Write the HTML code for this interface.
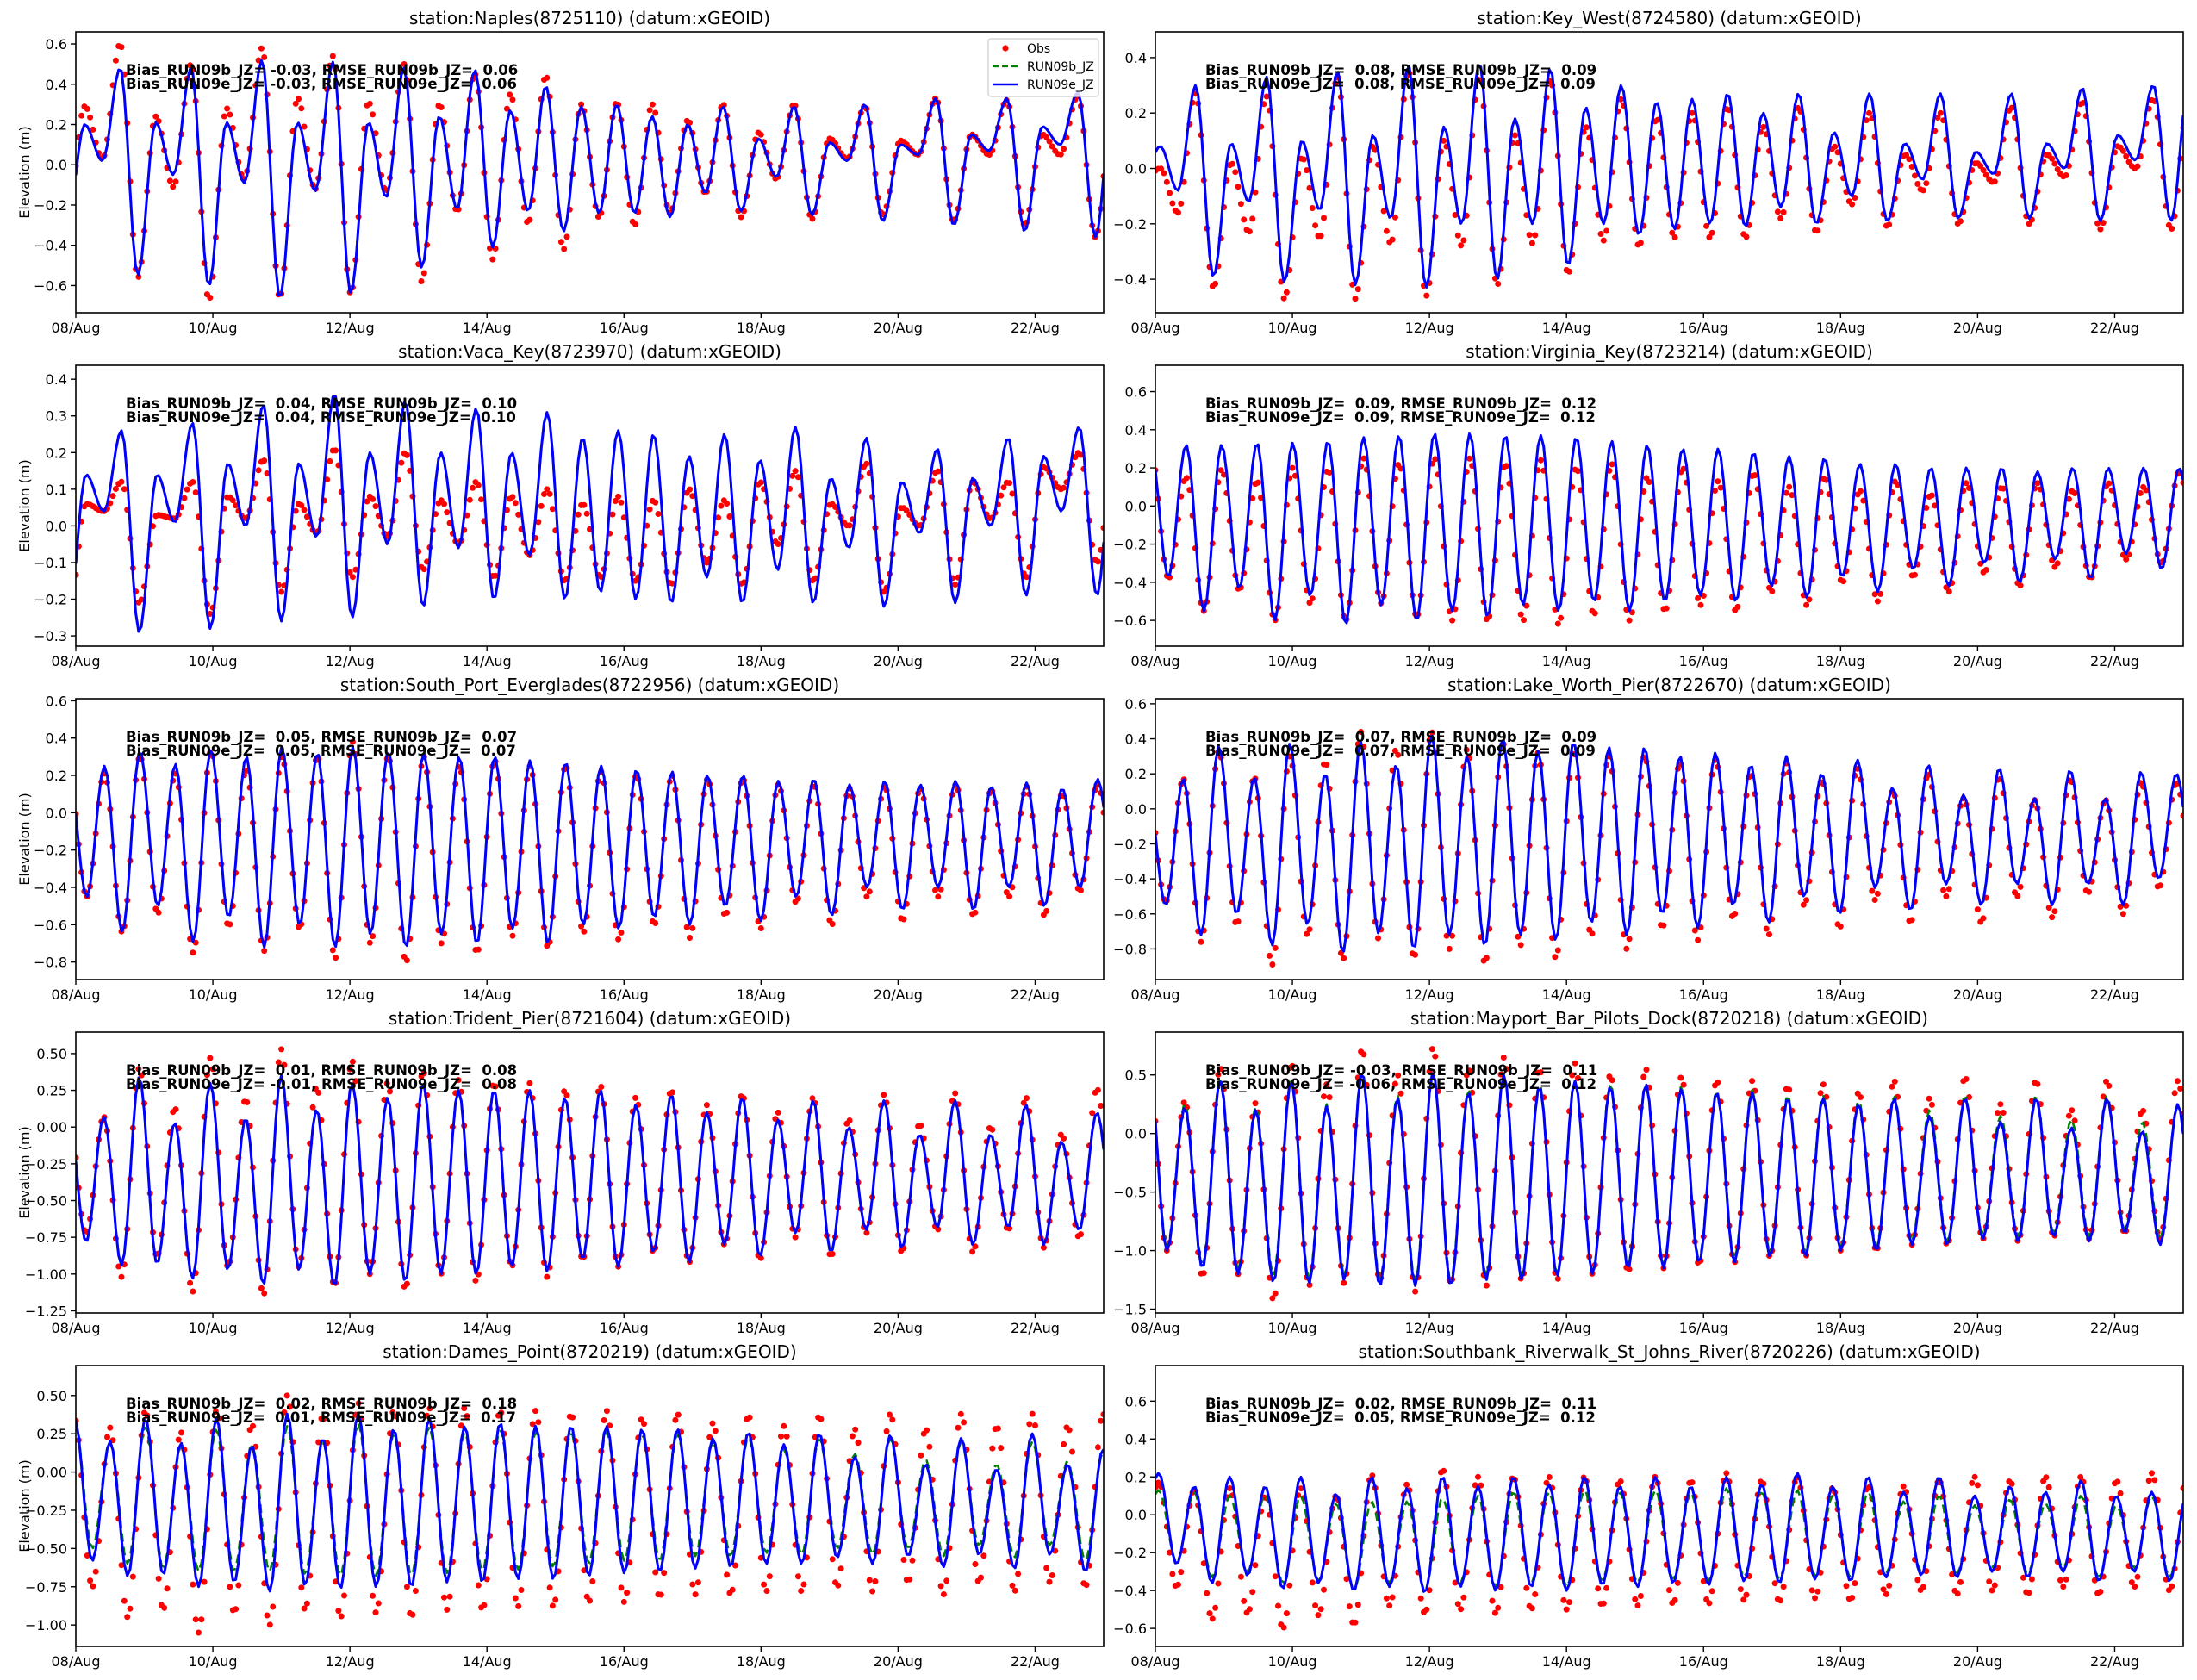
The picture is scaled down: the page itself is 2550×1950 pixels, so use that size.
<!DOCTYPE html>
<html><head><meta charset="utf-8"><title>Tide stations</title>
<style>
html,body{margin:0;padding:0;background:#fff;}
svg{display:block;font-family:"DejaVu Sans","Liberation Sans",sans-serif;}
.pre{white-space:pre;}
</style></head>
<body>
<svg id="fig" width="2550" height="1950" viewBox="0 0 2550 1950" xmlns="http://www.w3.org/2000/svg">
<rect x="0" y="0" width="2550" height="1950" fill="#fff"/>
</svg>
<script>
// ---- data (extrema per half tidal cycle, m) ----
const stationNames = ["Naples(8725110)","Key_West(8724580)","Vaca_Key(8723970)","Virginia_Key(8723214)","South_Port_Everglades(8722956)","Lake_Worth_Pier(8722670)","Trident_Pier(8721604)","Mayport_Bar_Pilots_Dock(8720218)","Dames_Point(8720219)","Southbank_Riverwalk_St_Johns_River(8720226)"];
const biasB = ["-0.03"," 0.08"," 0.04"," 0.09"," 0.05"," 0.07"," 0.01","-0.03"," 0.02"," 0.02"];
const rmseB = ["0.06","0.09","0.10","0.12","0.07","0.09","0.08","0.11","0.18","0.11"];
const biasE = ["-0.03"," 0.08"," 0.04"," 0.09"," 0.05"," 0.07","-0.01","-0.06"," 0.01"," 0.05"];
const rmseE = ["0.06","0.09","0.10","0.12","0.07","0.09","0.08","0.12","0.17","0.12"];
const yMins = [-0.735,-0.521,-0.328,-0.735,-0.894,-0.975,-1.265,-1.533,-1.14,-0.695];
const yMaxs = [0.66,0.493,0.438,0.738,0.611,0.629,0.646,0.866,0.696,0.788];
const yTicks = [
 [-0.6,-0.4,-0.2,0,0.2,0.4,0.6],[-0.4,-0.2,0,0.2,0.4],[-0.3,-0.2,-0.1,0,0.1,0.2,0.3,0.4],
 [-0.6,-0.4,-0.2,0,0.2,0.4,0.6],[-0.8,-0.6,-0.4,-0.2,0,0.2,0.4,0.6],[-0.8,-0.6,-0.4,-0.2,0,0.2,0.4,0.6],
 [-1.25,-1,-0.75,-0.5,-0.25,0,0.25,0.5],[-1.5,-1,-0.5,0,0.5],[-1,-0.75,-0.5,-0.25,0,0.25,0.5],[-0.6,-0.4,-0.2,0,0.2,0.4,0.6]];
const tickDecimals = [1,1,1,1,1,1,2,1,2,1];
const startType = ["H","H","H","L","L","L","L","L","L","H"];
const firstExtremumDay = [0.13,0.07,0.15,0.19,0.16,0.15,0.15,0.17,0.24,0.05];
const preValue = [-0.3,-0.05,-0.25,0.3,0.2,0.1,0.1,0.5,0.35,-0.1];
const xTickLabels = ["08/Aug","10/Aug","12/Aug","14/Aug","16/Aug","18/Aug","20/Aug","22/Aug"];
const xTickDays = [0,2,4,6,8,10,12,14];
const legendLabels = ["Obs","RUN09b_JZ","RUN09e_JZ"];

const modelHi = [
 [0.2,0.48,0.21,0.48,0.21,0.52,0.21,0.51,0.21,0.48,0.24,0.47,0.27,0.39,0.29,0.3,0.24,0.2,0.29,0.13,0.29,0.11,0.3,0.1,0.33,0.15,0.33,0.19,0.36],
 [0.08,0.3,0.09,0.33,0.1,0.35,0.12,0.37,0.15,0.38,0.18,0.36,0.22,0.3,0.24,0.25,0.27,0.2,0.27,0.13,0.27,0.09,0.27,0.06,0.27,0.09,0.29,0.12,0.3],
 [0.14,0.26,0.14,0.28,0.17,0.33,0.17,0.36,0.2,0.34,0.2,0.32,0.2,0.31,0.24,0.26,0.25,0.19,0.25,0.18,0.27,0.13,0.24,0.12,0.21,0.13,0.24,0.19,0.27],
 [0.32,0.32,0.33,0.33,0.34,0.36,0.37,0.38,0.38,0.37,0.37,0.36,0.34,0.32,0.3,0.3,0.28,0.26,0.25,0.22,0.22,0.2,0.2,0.2,0.18,0.2,0.2,0.2,0.2],
 [0.25,0.33,0.26,0.34,0.3,0.35,0.32,0.35,0.33,0.32,0.3,0.3,0.28,0.27,0.25,0.23,0.22,0.2,0.2,0.17,0.18,0.15,0.17,0.15,0.17,0.14,0.16,0.13,0.18],
 [0.17,0.36,0.18,0.37,0.2,0.38,0.25,0.42,0.3,0.4,0.33,0.38,0.35,0.35,0.3,0.32,0.25,0.3,0.2,0.28,0.12,0.25,0.08,0.23,0.06,0.22,0.06,0.21,0.2],
 [0.07,0.34,0.03,0.3,0.06,0.35,0.12,0.3,0.2,0.3,0.25,0.25,0.25,0.2,0.25,0.15,0.22,0.1,0.2,0.05,0.18,0.0,0.18,-0.05,0.18,-0.05,0.15,-0.1,0.1],
 [0.22,0.45,0.2,0.45,0.23,0.52,0.3,0.52,0.35,0.5,0.4,0.45,0.4,0.42,0.38,0.35,0.35,0.3,0.3,0.25,0.3,0.15,0.3,0.1,0.3,0.05,0.3,0.02,0.25],
 [0.2,0.35,0.19,0.35,0.17,0.38,0.22,0.38,0.28,0.35,0.3,0.32,0.3,0.3,0.3,0.28,0.28,0.22,0.26,0.18,0.25,0.1,0.24,0.05,0.22,0.02,0.25,0.05,0.15],
 [0.22,0.15,0.2,0.15,0.2,0.11,0.2,0.14,0.2,0.15,0.2,0.16,0.2,0.15,0.2,0.15,0.2,0.16,0.22,0.15,0.2,0.12,0.2,0.1,0.15,0.12,0.18,0.1,0.12]];
const modelLo = [
 [0.02,-0.55,-0.05,-0.6,-0.09,-0.66,-0.13,-0.64,-0.16,-0.51,-0.22,-0.41,-0.23,-0.33,-0.24,-0.24,-0.26,-0.14,-0.23,-0.06,-0.25,0.02,-0.28,0.05,-0.3,0.07,-0.33,0.1,-0.36],
 [-0.08,-0.39,-0.12,-0.41,-0.15,-0.42,-0.18,-0.43,-0.2,-0.4,-0.2,-0.35,-0.2,-0.24,-0.22,-0.2,-0.21,-0.14,-0.2,-0.1,-0.19,-0.04,-0.18,-0.02,-0.18,0.0,-0.19,0.03,-0.19],
 [0.04,-0.29,0.01,-0.28,0.0,-0.26,-0.03,-0.25,-0.05,-0.22,-0.06,-0.2,-0.08,-0.2,-0.18,-0.2,-0.21,-0.14,-0.21,-0.12,-0.21,-0.06,-0.22,-0.02,-0.21,0.0,-0.19,0.04,-0.19],
 [-0.37,-0.55,-0.43,-0.6,-0.47,-0.62,-0.52,-0.6,-0.55,-0.58,-0.52,-0.55,-0.5,-0.55,-0.5,-0.47,-0.5,-0.42,-0.48,-0.37,-0.45,-0.33,-0.42,-0.3,-0.4,-0.28,-0.38,-0.25,-0.33],
 [-0.45,-0.64,-0.5,-0.69,-0.56,-0.72,-0.6,-0.72,-0.65,-0.72,-0.65,-0.7,-0.62,-0.7,-0.6,-0.62,-0.56,-0.6,-0.5,-0.58,-0.45,-0.55,-0.4,-0.52,-0.4,-0.52,-0.4,-0.5,-0.4],
 [-0.55,-0.72,-0.6,-0.78,-0.66,-0.82,-0.71,-0.8,-0.72,-0.78,-0.72,-0.75,-0.65,-0.72,-0.6,-0.68,-0.55,-0.65,-0.5,-0.6,-0.45,-0.58,-0.43,-0.55,-0.43,-0.55,-0.43,-0.55,-0.4],
 [-0.78,-0.94,-0.93,-1.03,-0.97,-1.07,-0.97,-1.08,-1.0,-1.05,-1.0,-1.0,-0.95,-0.98,-0.9,-0.95,-0.85,-0.92,-0.8,-0.88,-0.72,-0.85,-0.7,-0.82,-0.68,-0.8,-0.68,-0.8,-0.7],
 [-1.0,-1.15,-1.2,-1.27,-1.28,-1.25,-1.3,-1.3,-1.3,-1.25,-1.25,-1.22,-1.2,-1.15,-1.15,-1.1,-1.1,-1.05,-1.05,-1.0,-1.0,-0.95,-0.95,-0.9,-0.92,-0.88,-0.92,-0.85,-0.95],
 [-0.58,-0.68,-0.67,-0.75,-0.72,-0.78,-0.74,-0.76,-0.75,-0.75,-0.72,-0.72,-0.7,-0.7,-0.68,-0.66,-0.65,-0.63,-0.62,-0.6,-0.6,-0.56,-0.6,-0.55,-0.62,-0.54,-0.63,-0.54,-0.65],
 [-0.26,-0.36,-0.32,-0.39,-0.36,-0.4,-0.38,-0.41,-0.38,-0.4,-0.38,-0.4,-0.37,-0.38,-0.36,-0.37,-0.35,-0.36,-0.34,-0.35,-0.33,-0.32,-0.33,-0.3,-0.33,-0.3,-0.35,-0.3,-0.35]];
const runBHi = [null,null,null,null,null,null,null,
 [0.25,0.48,0.23,0.47,0.25,0.52,0.32,0.52,0.37,0.5,0.42,0.45,0.42,0.42,0.4,0.36,0.37,0.32,0.32,0.28,0.32,0.2,0.32,0.15,0.32,0.12,0.32,0.1,0.25],
 [0.2,0.3,0.17,0.28,0.18,0.3,0.2,0.32,0.25,0.3,0.26,0.28,0.26,0.26,0.26,0.25,0.25,0.2,0.23,0.15,0.22,0.12,0.22,0.08,0.2,0.05,0.2,0.07,0.13],
 [0.13,0.12,0.1,0.11,0.1,0.06,0.07,0.07,0.09,0.1,0.12,0.12,0.13,0.12,0.13,0.12,0.14,0.12,0.13,0.1,0.12,0.07,0.1,0.05,0.08,0.06,0.1,0.05,0.1]];
const runBLo = [null,null,null,null,null,null,null,
 [-0.97,-1.12,-1.17,-1.22,-1.24,-1.22,-1.26,-1.26,-1.26,-1.22,-1.22,-1.2,-1.18,-1.12,-1.12,-1.07,-1.07,-1.02,-1.02,-0.97,-0.97,-0.92,-0.92,-0.87,-0.88,-0.85,-0.88,-0.82,-0.9],
 [-0.5,-0.6,-0.63,-0.65,-0.65,-0.65,-0.67,-0.68,-0.68,-0.68,-0.66,-0.65,-0.64,-0.62,-0.6,-0.58,-0.58,-0.55,-0.55,-0.53,-0.54,-0.5,-0.54,-0.5,-0.55,-0.48,-0.56,-0.48,-0.58],
 [-0.25,-0.33,-0.3,-0.36,-0.35,-0.4,-0.36,-0.4,-0.36,-0.38,-0.36,-0.38,-0.35,-0.36,-0.34,-0.35,-0.33,-0.34,-0.32,-0.33,-0.31,-0.3,-0.31,-0.28,-0.31,-0.28,-0.33,-0.28,-0.33]];
const obsHi = [
 [0.29,0.6,0.24,0.5,0.28,0.58,0.33,0.54,0.31,0.5,0.3,0.45,0.35,0.44,0.3,0.31,0.3,0.22,0.3,0.16,0.3,0.13,0.29,0.12,0.33,0.15,0.32,0.15,0.34],
 [0.0,0.27,0.02,0.26,0.04,0.33,0.08,0.35,0.1,0.33,0.12,0.32,0.15,0.25,0.18,0.2,0.22,0.15,0.22,0.08,0.2,0.05,0.2,0.02,0.22,0.05,0.24,0.08,0.25],
 [0.06,0.12,0.03,0.12,0.08,0.18,0.06,0.21,0.08,0.2,0.07,0.12,0.08,0.1,0.06,0.08,0.07,0.1,0.07,0.12,0.15,0.06,0.17,0.05,0.15,0.12,0.12,0.16,0.2],
 [0.15,0.19,0.13,0.2,0.19,0.25,0.22,0.25,0.25,0.22,0.24,0.2,0.22,0.15,0.2,0.13,0.17,0.1,0.15,0.08,0.13,0.06,0.12,0.1,0.12,0.08,0.12,0.1,0.18],
 [0.21,0.3,0.21,0.33,0.23,0.3,0.3,0.38,0.3,0.3,0.25,0.28,0.25,0.25,0.22,0.2,0.2,0.18,0.18,0.15,0.15,0.13,0.14,0.13,0.15,0.12,0.14,0.1,0.15],
 [0.17,0.33,0.18,0.3,0.27,0.44,0.34,0.44,0.34,0.38,0.32,0.33,0.3,0.3,0.26,0.28,0.2,0.26,0.16,0.23,0.1,0.2,0.06,0.18,0.05,0.17,0.05,0.15,0.15],
 [0.07,0.4,0.13,0.47,0.19,0.53,0.27,0.45,0.3,0.38,0.32,0.3,0.3,0.25,0.28,0.2,0.25,0.15,0.22,0.1,0.2,0.05,0.22,0.02,0.23,0.0,0.2,-0.05,0.26],
 [0.27,0.56,0.26,0.6,0.42,0.72,0.5,0.73,0.55,0.65,0.55,0.6,0.5,0.55,0.48,0.45,0.45,0.4,0.42,0.35,0.45,0.3,0.48,0.25,0.45,0.2,0.45,0.2,0.45],
 [0.29,0.4,0.26,0.4,0.31,0.5,0.37,0.45,0.4,0.42,0.42,0.4,0.4,0.38,0.4,0.35,0.38,0.32,0.37,0.3,0.37,0.28,0.38,0.28,0.38,0.3,0.38,0.3,0.38],
 [0.17,0.13,0.14,0.1,0.14,0.1,0.21,0.16,0.24,0.2,0.2,0.2,0.2,0.18,0.2,0.18,0.22,0.18,0.2,0.14,0.15,0.15,0.18,0.2,0.18,0.2,0.2,0.18,0.22]];
const obsLo = [
 [0.03,-0.56,-0.11,-0.67,-0.07,-0.66,-0.12,-0.64,-0.13,-0.58,-0.23,-0.47,-0.29,-0.42,-0.26,-0.3,-0.24,-0.14,-0.26,-0.07,-0.27,0.03,-0.25,0.05,-0.28,0.05,-0.3,0.05,-0.36],
 [-0.16,-0.43,-0.23,-0.47,-0.25,-0.47,-0.27,-0.46,-0.28,-0.42,-0.27,-0.38,-0.26,-0.28,-0.25,-0.25,-0.25,-0.18,-0.23,-0.13,-0.21,-0.08,-0.2,-0.05,-0.2,-0.03,-0.22,0.0,-0.22],
 [0.04,-0.21,0.02,-0.24,0.02,-0.18,-0.02,-0.14,-0.03,-0.12,-0.05,-0.14,-0.08,-0.15,-0.14,-0.15,-0.16,-0.1,-0.16,-0.05,-0.15,0.0,-0.18,0.0,-0.16,0.02,-0.14,0.1,-0.1],
 [-0.38,-0.55,-0.44,-0.6,-0.51,-0.6,-0.51,-0.58,-0.6,-0.6,-0.6,-0.62,-0.57,-0.6,-0.55,-0.52,-0.55,-0.45,-0.52,-0.4,-0.5,-0.37,-0.45,-0.35,-0.42,-0.32,-0.38,-0.28,-0.3],
 [-0.45,-0.64,-0.54,-0.75,-0.61,-0.74,-0.62,-0.78,-0.7,-0.8,-0.7,-0.75,-0.66,-0.72,-0.64,-0.68,-0.6,-0.67,-0.55,-0.62,-0.48,-0.6,-0.45,-0.58,-0.45,-0.55,-0.45,-0.55,-0.42],
 [-0.53,-0.76,-0.66,-0.89,-0.72,-0.86,-0.74,-0.85,-0.8,-0.88,-0.78,-0.85,-0.72,-0.8,-0.68,-0.75,-0.62,-0.72,-0.55,-0.68,-0.52,-0.65,-0.5,-0.65,-0.5,-0.62,-0.48,-0.6,-0.45],
 [-0.72,-1.02,-0.88,-1.12,-0.95,-1.14,-0.95,-1.08,-1.0,-1.1,-1.0,-1.05,-0.95,-1.02,-0.9,-0.95,-0.85,-0.92,-0.8,-0.9,-0.75,-0.88,-0.72,-0.85,-0.7,-0.85,-0.7,-0.82,-0.75],
 [-1.0,-1.22,-1.2,-1.42,-1.3,-1.28,-1.25,-1.35,-1.28,-1.3,-1.25,-1.25,-1.2,-1.18,-1.15,-1.12,-1.1,-1.05,-1.05,-1.0,-1.0,-0.95,-0.95,-0.9,-0.92,-0.88,-0.9,-0.85,-0.9],
 [-0.75,-0.95,-0.9,-1.05,-0.92,-1.0,-0.9,-0.95,-0.92,-0.95,-0.9,-0.9,-0.88,-0.88,-0.85,-0.85,-0.82,-0.8,-0.8,-0.78,-0.78,-0.75,-0.78,-0.72,-0.8,-0.72,-0.78,-0.72,-0.75],
 [-0.38,-0.55,-0.52,-0.6,-0.53,-0.58,-0.48,-0.52,-0.5,-0.52,-0.5,-0.5,-0.48,-0.48,-0.47,-0.47,-0.45,-0.46,-0.44,-0.45,-0.42,-0.4,-0.42,-0.4,-0.42,-0.38,-0.42,-0.38,-0.4]];

// ---- layout ----
const NS = "http://www.w3.org/2000/svg";
const svg = document.getElementById("fig");
const colLeft = [88, 1341], axW = 1193;
const rowTop = [37, 424, 811, 1198, 1585], axH = 326;
const DAYS = 15, HALF = 0.2588;

function mk(tag, attrs, parent){
  const e = document.createElementNS(NS, tag);
  for (const k in attrs) e.setAttribute(k, attrs[k]);
  (parent || svg).appendChild(e);
  return e;
}
function fmt(v, d){ const s = Math.abs(v).toFixed(d); return (v < -1e-9 ? "\u2212" : "") + s; }

function extrema(s, hi, lo){
  const pts = [];
  const t0 = firstExtremumDay[s];
  pts.push([t0 - HALF, preValue[s]]);
  for (let k = 0; k < 58; k++){
    const isHi = (startType[s] === "H") ? (k % 2 === 0) : (k % 2 === 1);
    pts.push([t0 + k*HALF, isHi ? hi[k>>1] : lo[k>>1]]);
  }
  const lastIsHi = (startType[s] === "H") ? false : true;
  pts.push([t0 + 58*HALF, lastIsHi ? lo[28] : hi[28]]);
  return pts;
}
function sampleAt(pts, t){
  for (let i = 0; i < pts.length - 1; i++){
    if (t >= pts[i][0] && t <= pts[i+1][0]){
      const f = (t - pts[i][0]) / (pts[i+1][0] - pts[i][0]);
      return pts[i][1] + (pts[i+1][1] - pts[i][1]) * (1 - Math.cos(Math.PI*f)) / 2;
    }
  }
  return pts[pts.length-1][1];
}

for (let s = 0; s < 10; s++){
  const col = s % 2, row = Math.floor(s / 2);
  const L = colLeft[col], T = rowTop[row], B = T + axH, R = L + axW;
  const xS = d => L + d / DAYS * axW;
  const yS = v => B - (v - yMins[s]) / (yMaxs[s] - yMins[s]) * axH;
  const g = mk("g", {});
  
  
  const cid = "clip" + s;
  const cp = mk("clipPath", {id: cid}, g);
  mk("rect", {x: L, y: T, width: axW, height: axH}, cp);

  const title = mk("text", {x: L + axW/2, y: T - 9, "text-anchor": "middle", "font-size": "20"}, g);
  title.textContent = "station:" + stationNames[s] + " (datum:xGEOID)";
  
  

  const obsPts = extrema(s, obsHi[s], obsLo[s]);
  const og = mk("g", {"clip-path": "url(#" + cid + ")", fill: "#ff0000"}, g);
  
  
  for (let h = 0; h <= DAYS*24; h++){
    const t = h/24;
    mk("circle", {cx: xS(t).toFixed(1), cy: yS(sampleAt(obsPts, t)).toFixed(1), r: 3.5}, og);
  }
  const lines = [];
  const bHi = runBHi[s] || modelHi[s], bLo = runBLo[s] || modelLo[s];
  lines.push([extrema(s, bHi, bLo), "#008000", "10,6", "run09b-line"]);
  lines.push([extrema(s, modelHi[s], modelLo[s]), "#0000ff", null, "run09e-line"]);
  for (const [pts, color, dash, nm] of lines){
    let d = "";
    for (let h = 0; h <= DAYS*24; h++){
      const t = h/24;
      d += (h ? "L" : "M") + xS(t).toFixed(1) + "," + yS(sampleAt(pts, t)).toFixed(1);
    }
    const p = mk("path", {d: d, fill: "none", stroke: color, "stroke-width": dash ? 2.6 : 3, "stroke-linejoin": "round", "clip-path": "url(#" + cid + ")"}, g);
    if (dash) p.setAttribute("stroke-dasharray", dash);
    
    
  }

  const fr = mk("rect", {x: L, y: T, width: axW, height: axH, fill: "none", stroke: "#000", "stroke-width": 1.6}, g);
  
  

  xTickDays.forEach((dday, i) => {
    const x = xS(dday);
    mk("line", {x1: x, y1: B, x2: x, y2: B + 6, stroke: "#000", "stroke-width": 1.4}, g);
    const tx = mk("text", {x: x, y: B + 23, "text-anchor": "middle", "font-size": "16"}, g);
    tx.textContent = xTickLabels[i];
    
    
  });
  yTicks[s].forEach(v => {
    const y = yS(v);
    mk("line", {x1: L - 6, y1: y, x2: L, y2: y, stroke: "#000", "stroke-width": 1.4}, g);
    const ty = mk("text", {x: L - 10, y: y + 6, "text-anchor": "end", "font-size": "16"}, g);
    ty.textContent = fmt(v, tickDecimals[s]);
    
    
  });
  if (col === 0){
    const yl = mk("text", {x: 0, y: 0, "text-anchor": "middle", "font-size": "16", transform: "translate(34," + (T + axH/2) + ") rotate(-90)"}, g);
    yl.textContent = "Elevation (m)";
    
    
  }
  const st1 = mk("text", {x: L + 58, y: T + 50, "font-size": "16.5", "font-weight": "bold", "class": "pre"}, g);
  st1.textContent = "Bias_RUN09b_JZ= " + biasB[s] + ", RMSE_RUN09b_JZ=  " + rmseB[s];
  
  
  const st2 = mk("text", {x: L + 58, y: T + 66, "font-size": "16.5", "font-weight": "bold", "class": "pre"}, g);
  st2.textContent = "Bias_RUN09e_JZ= " + biasE[s] + ", RMSE_RUN09e_JZ=  " + rmseE[s];
  
  

  if (s === 0){
    const lg = mk("g", {}, g);
    
    
    mk("rect", {x: 1147, y: 45, width: 128, height: 67, rx: 3, fill: "#fff", "fill-opacity": 0.8, stroke: "#ccc", "stroke-width": 1.2}, lg);
    mk("circle", {cx: 1167, cy: 56, r: 3.6, fill: "#ff0000"}, lg);
    mk("line", {x1: 1152, y1: 77, x2: 1182, y2: 77, stroke: "#008000", "stroke-width": 2.2, "stroke-dasharray": "7,4"}, lg);
    mk("line", {x1: 1152, y1: 98, x2: 1182, y2: 98, stroke: "#0000ff", "stroke-width": 2.6}, lg);
    [56, 77, 98].forEach((yy, i) => {
      const lt = mk("text", {x: 1192, y: yy + 5, "font-size": "14"}, lg);
      lt.textContent = legendLabels[i];
      
      
    });
  }
}
</script>
</body></html>
